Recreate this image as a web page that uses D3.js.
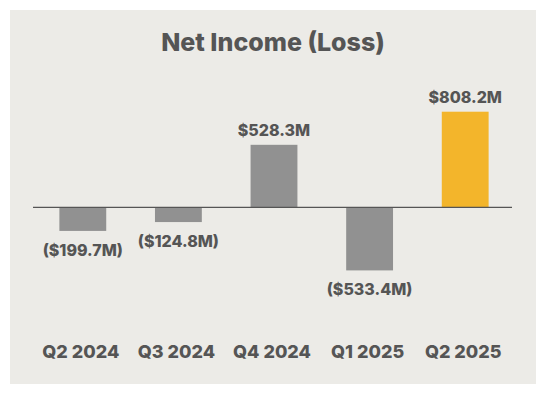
<!DOCTYPE html>
<html>
<head>
<meta charset="utf-8">
<title>Net Income (Loss)</title>
<script src="https://cdn.jsdelivr.net/npm/d3@7"></script>
<style>
    html, body {
        margin: 0;
        padding: 0;
        background: #ffffff;
    }
    #chart {
        width: 546px;
        height: 399px;
    }
    text {
        font-family: Inter, Roboto, "Noto Sans", sans-serif;
        font-weight: 800;
        fill: #555555;
    }
</style>
</head>
<body>
<div id="chart"></div>
<script>
const quarters = ["Q2 2024", "Q3 2024", "Q4 2024", "Q1 2025", "Q2 2025"];
const netIncome = [-199.7, -124.8, 528.3, -533.4, 808.2];
const valueLabels = ["($199.7M)", "($124.8M)", "$528.3M", "($533.4M)", "$808.2M"];
const chartTitle = "Net Income (Loss)";

(function () {
    "use strict";

    const width = 546;
    const height = 399;
    const panel = { x: 10, y: 10, w: 526, h: 374 };

    const svg = d3.select("#chart")
        .append("svg")
        .attr("width", width)
        .attr("height", height);

    svg.append("rect")
        .attr("x", panel.x)
        .attr("y", panel.y)
        .attr("width", panel.w)
        .attr("height", panel.h)
        .attr("fill", "#ecebe7");

    const x = d3.scaleBand()
        .domain(quarters)
        .range([35, 513])
        .paddingInner(0.51)
        .paddingOuter(0.255);

    // zero line sits at 207.3, the Q2 2025 bar tops out at 111.7
    const y = d3.scaleLinear()
        .domain([0, 808.2])
        .range([207.3, 111.7]);

    const rows = quarters.map((q, i) => ({ q, v: netIncome[i], label: valueLabels[i] }));

    svg.append("text")
        .attr("x", 273)
        .attr("y", 51)
        .attr("text-anchor", "middle")
        .style("font-size", "25px")
        .text(chartTitle);

    svg.append("g")
        .selectAll("rect")
        .data(rows)
        .join("rect")
        .attr("x", (d) => x(d.q))
        .attr("width", x.bandwidth())
        .attr("y", (d) => y(Math.max(0, d.v)))
        .attr("height", (d) => Math.abs(y(d.v) - y(0)))
        .attr("fill", (d, i) => i === rows.length - 1 ? "#f3b52b" : "#919191");

    svg.append("line")
        .attr("x1", 33)
        .attr("x2", 512)
        .attr("y1", y(0))
        .attr("y2", y(0))
        .attr("stroke", "#555555")
        .attr("stroke-width", 1.3);

    svg.append("g")
        .selectAll("text")
        .data(rows)
        .join("text")
        .attr("x", (d) => x(d.q) + x.bandwidth() / 2)
        .attr("y", (d) => d.v >= 0 ? y(d.v) - 9 : y(d.v) + 25)
        .attr("text-anchor", "middle")
        .style("font-size", "16px")
        .text((d) => d.label);

    const axis = d3.axisBottom(x).tickSize(0).tickPadding(0);

    const axisGroup = svg.append("g")
        .attr("transform", "translate(-2,345)")
        .call(axis);

    axisGroup.select(".domain").remove();
    axisGroup.selectAll("text")
        .attr("dy", null)
        .attr("y", 13.3)
        .attr("fill", "#555555")
        .style("font-family", "Inter, Roboto, sans-serif")
        .style("font-weight", "800")
        .style("font-size", "18px");
})();
</script>
</body>
</html>
